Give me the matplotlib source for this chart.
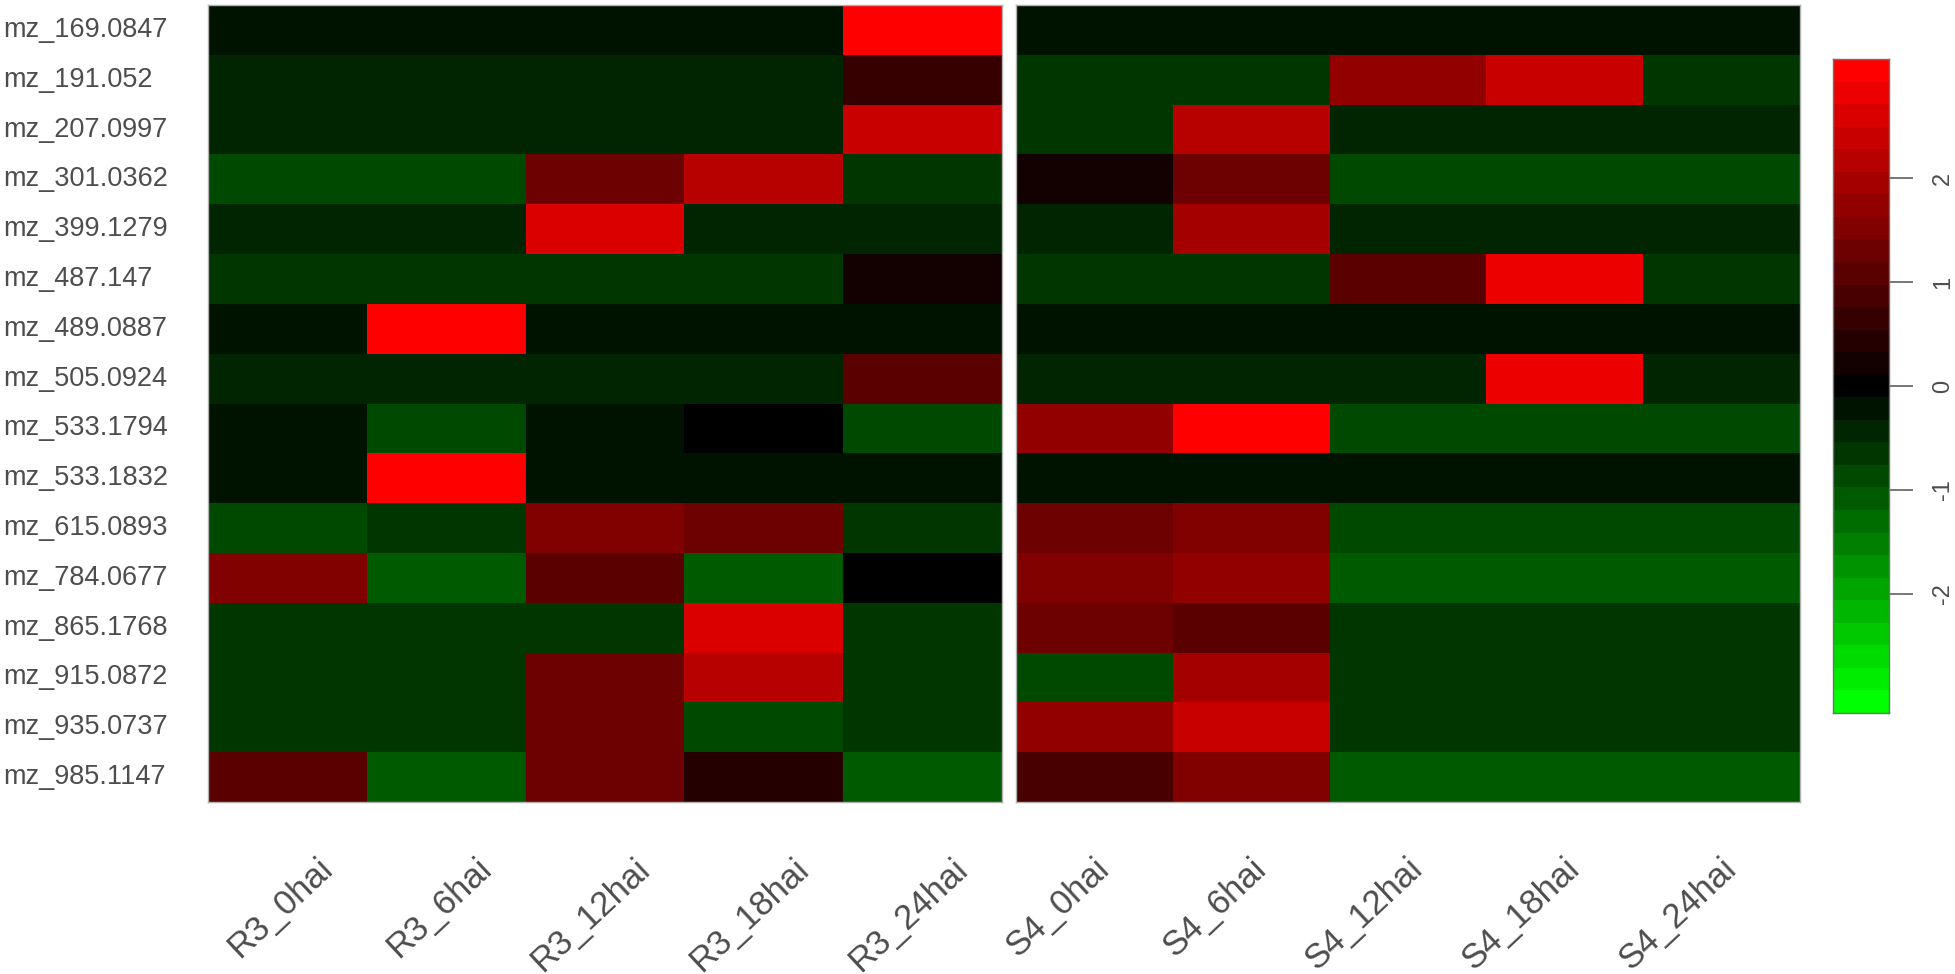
import numpy as np
import matplotlib
matplotlib.use('Agg')
import matplotlib.pyplot as plt
from matplotlib.colors import LinearSegmentedColormap, ListedColormap, BoundaryNorm

plt.rcParams['font.family'] = ['Liberation Sans', 'DejaVu Sans']

features = ['mz_169.0847', 'mz_191.052', 'mz_207.0997', 'mz_301.0362', 'mz_399.1279',
            'mz_487.147', 'mz_489.0887', 'mz_505.0924', 'mz_533.1794', 'mz_533.1832',
            'mz_615.0893', 'mz_784.0677', 'mz_865.1768', 'mz_915.0872', 'mz_935.0737',
            'mz_985.1147']
r3_samples = ['R3_0hai', 'R3_6hai', 'R3_12hai', 'R3_18hai', 'R3_24hai']
s4_samples = ['S4_0hai', 'S4_6hai', 'S4_12hai', 'S4_18hai', 'S4_24hai']

# z-scores, rows follow `features`
r3_values = [
    [-0.28, -0.28, -0.28, -0.28, 3.15],
    [-0.52, -0.52, -0.52, -0.52, 0.55],
    [-0.50, -0.50, -0.50, -0.50, 2.43],
    [-0.77, -0.77, 1.38, 2.15, -0.72],
    [-0.50, -0.50, 2.54, -0.50, -0.50],
    [-0.55, -0.55, -0.55, -0.55, 0.28],
    [-0.24, 3.15, -0.24, -0.24, -0.24],
    [-0.50, -0.50, -0.50, -0.50, 1.10],
    [-0.22, -0.77, -0.22, -0.06, -0.77],
    [-0.22, 3.15, -0.22, -0.22, -0.22],
    [-0.77, -0.72, 1.55, 1.38, -0.72],
    [1.44, -1.05, 1.10, -1.05, 0.02],
    [-0.72, -0.72, -0.72, 2.65, -0.72],
    [-0.72, -0.72, 1.38, 2.27, -0.72],
    [-0.72, -0.72, 1.38, -0.77, -0.72],
    [0.99, -1.05, 1.38, 0.50, -1.05],
]
s4_values = [
    [-0.28, -0.28, -0.28, -0.28, -0.28],
    [-0.55, -0.55, 1.77, 2.43, -0.55],
    [-0.55, 2.15, -0.44, -0.44, -0.44],
    [0.30, 1.38, -0.77, -0.77, -0.77],
    [-0.50, 1.99, -0.50, -0.50, -0.50],
    [-0.55, -0.55, 1.16, 2.87, -0.55],
    [-0.24, -0.24, -0.24, -0.24, -0.24],
    [-0.50, -0.50, -0.50, 2.87, -0.50],
    [1.77, 2.98, -0.88, -0.88, -0.88],
    [-0.22, -0.22, -0.22, -0.22, -0.22],
    [1.27, 1.44, -0.77, -0.77, -0.77],
    [1.55, 1.77, -1.08, -1.08, -1.08],
    [1.27, 1.16, -0.66, -0.66, -0.66],
    [-0.88, 1.99, -0.66, -0.66, -0.66],
    [1.77, 2.43, -0.66, -0.66, -0.66],
    [0.77, 1.44, -0.99, -0.99, -0.99],
]
cbar_ticks = [-2, -1, 0, 1, 2]

vmax = 3.15
nband = 29
ramp = LinearSegmentedColormap.from_list('gbr', ['#00ff00', '#000000', '#ff0000'])
cmap = ListedColormap(ramp(np.linspace(0, 1, nband)))
bounds = np.linspace(-vmax, vmax, nband + 1)
norm = BoundaryNorm(bounds, nband)

W, H = 1955, 974
fig = plt.figure(figsize=(W / 100, H / 100), dpi=100)
txt = '#4d4d4d'

def px_axes(x0, x1, y0, y1):
    return fig.add_axes([x0 / W, 1 - y1 / H, (x1 - x0) / W, (y1 - y0) / H])

top, bottom = 5, 802
panels = [(px_axes(208, 1002, top, bottom), r3_values, r3_samples, 40),
          (px_axes(1016, 1800, top, bottom), s4_values, s4_samples, 10)]

for ax, vals, names, shift in panels:
    arr = np.array(vals)
    ax.pcolormesh(np.arange(arr.shape[1] + 1), np.arange(arr.shape[0] + 1), arr,
                  cmap=cmap, norm=norm)
    ax.set_xlim(0, arr.shape[1])
    ax.set_ylim(arr.shape[0], 0)
    ax.set_xticks([])
    ax.set_yticks([])
    for s in ax.spines.values():
        s.set_color('#b0b0b0')
        s.set_linewidth(1)
    # rotated sample labels below the panel
    x0, x1 = ax.get_position().x0 * W, ax.get_position().x1 * W
    cw = (x1 - x0) / len(names)
    for i, name in enumerate(names):
        xe = x0 + cw * (i + 0.5) + shift
        fig.text(xe / W, 1 - 864 / H, name, rotation=43, rotation_mode='anchor',
                 ha='right', va='center', fontsize=25, color=txt)

# feature labels on the far left
rh = (bottom - top) / len(features)
for i, name in enumerate(features):
    fig.text(3 / W, 1 - (top + rh * (i + 0.5)) / H, name, ha='left', va='center',
             fontsize=19.5, color=txt)

# colour key
cax = px_axes(1833, 1889, 59, 713)
mids = ((bounds[:-1] + bounds[1:]) / 2).reshape(-1, 1)
cax.pcolormesh([0, 1], bounds, mids, cmap=cmap, norm=norm)
cax.set_xlim(0, 1)
cax.set_ylim(-vmax, vmax)
cax.set_xticks([])
cax.yaxis.tick_right()
cax.set_yticks(cbar_ticks)
cax.set_yticklabels([str(t) for t in cbar_ticks], rotation=90, va='center',
                    fontsize=17, color=txt)
cax.tick_params(axis='y', length=17, width=1.2, color='#606060', pad=14)
for s in cax.spines.values():
    s.set_color('#707070')
    s.set_linewidth(1)

fig.savefig('out.png', dpi=100)
